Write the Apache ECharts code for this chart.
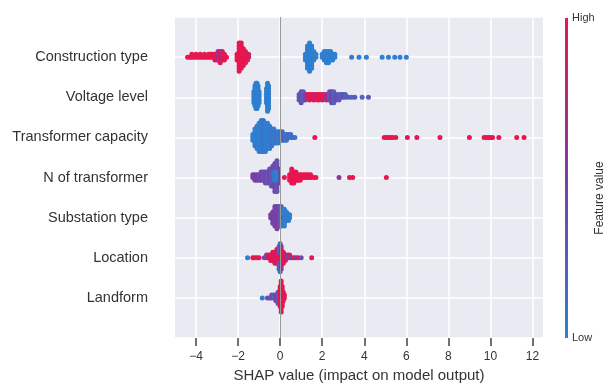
<!DOCTYPE html>
<html><head><meta charset="utf-8">
<script src="https://cdn.jsdelivr.net/npm/echarts@6/dist/echarts.min.js"></script>
<style>html,body{margin:0;padding:0;background:#fff}#c{width:606px;height:383px}</style>
</head><body><div id="c"></div>
<script>
// Feature names, top to bottom
const features = ['Construction type','Voltage level','Transformer capacity','N of transformer','Substation type','Location','Landform'];
const xTicks = [-4,-2,0,2,4,6,8,10,12];
// Each entry: [SHAP value, number of samples at that value, normalised feature value (0 low .. 1 high)]
const constructionType = [
  [-4.4,1,1],[-4.3,1,1],[-4.2,2,1],[-4.1,1,1],[-4.0,2,1],[-3.9,1,1],[-3.8,2,1],[-3.7,1,1],[-3.6,2,1],[-3.5,1,1],[-3.4,2,1],[-3.3,2,1],[-3.2,2,1],[-3.1,3,1],
  [-3.0,3,0.85],[-2.95,4,0.6],[-2.85,5,1],[-2.75,4,0.8],[-2.65,3,1],[-2.55,1,1],
  [-2.05,3,1],[-1.95,11,1],[-1.85,10,1],[-1.75,7,1],[-1.65,5,1],[-1.55,3,1],[-1.5,2,0.9],
  [1.2,3,0],[1.3,9,0],[1.4,11,0],[1.5,9,0],[1.6,4,0],[1.7,2,0],
  [2.0,2,0],[2.1,4,0.05],[2.2,5,0],[2.3,5,0],[2.4,4,0],[2.5,3,0],[2.6,2,0],
  [3.4,1,0],[3.75,1,0],[4.1,1,0],[4.85,1,0],[5.15,1,0],[5.45,1,0],[5.7,1,0],[6.0,1,0]
];
const voltageLevel = [
  [-1.25,5,0],[-1.2,8,0],[-1.15,10,0],[-1.1,10,0],[-1.05,8,0],[-1.0,5,0],
  [-0.65,6,0],[-0.6,11,0],[-0.55,9,0],
  [0.9,3,0.3],[1.0,5,0.4],[1.1,4,0.2],[1.2,3,0.5],
  [1.3,2,1],[1.4,3,0.9],[1.5,2,1],[1.6,3,1],[1.7,2,0.8],[1.8,3,1],[1.9,2,1],[2.0,3,0.9],[2.1,2,1],[2.2,3,0.7],
  [2.35,4,0.3],[2.45,5,0.5],[2.55,5,0.2],[2.65,3,0.4],
  [2.8,3,0.3],[2.9,2,0.2],[3.0,2,0.4],[3.1,2,0.2],[3.25,1,0.3],[3.4,1,0.2],[3.55,1,0.3],[3.9,1,0.2],[4.2,1,0.3]
];
const transformerCapacity = [
  [-1.3,3,0],[-1.2,7,0],[-1.1,9,0.05],[-1.0,11,0],[-0.9,12,0],[-0.8,12,0.1],[-0.7,11,0],[-0.6,10,0],[-0.5,9,0],[-0.4,7,0.1],[-0.3,6,0],[-0.2,5,0.15],[-0.1,5,0],[0.0,4,0.1],
  [0.1,4,0.1],[0.2,3,0.2],[0.3,3,0.1],[0.4,2,0.2],[0.5,2,0.1],[0.6,1,0.2],[0.7,1,0.1],
  [1.65,1,1],[4.95,1,1],[5.05,1,1],[5.15,1,1],[5.25,1,1],[5.35,1,1],[5.5,1,1],[6.05,1,1],[6.5,1,1],[7.6,1,1],[9.0,1,1],
  [9.7,1,1],[9.8,1,1],[9.9,1,1],[10.0,1,1],[10.1,1,1],[10.4,1,1],[11.25,1,1],[11.6,1,1]
];
const nTransformer = [
  [-1.3,2,0.5],[-1.2,3,0.45],[-1.1,3,0.5],[-1.0,3,0.4],[-0.9,4,0.5],[-0.8,4,0.35],[-0.7,5,0.45],[-0.6,5,0.3],[-0.5,6,0.5],[-0.42,7,0.25],
  [-0.35,8,0.4],[-0.25,11,0.45],[-0.15,12,0.35],[-0.08,6,0.5],[-0.3,4,0.1],[-0.2,4,0.0],
  [0.2,1,1],[0.45,3,1],[0.55,6,1],[0.65,5,1],[0.75,4,1],[0.85,3,1],[0.95,3,1],[1.05,2,1],[1.15,2,1],[1.25,2,1],[1.35,2,1],[1.45,2,1],[1.6,1,1],[1.7,1,1],
  [2.8,1,0.6],[3.3,1,1],[3.45,1,1],[5.05,1,1]
];
const substationType = [
  [-0.45,2,0.5],[-0.35,5,0.5],[-0.25,8,0.45],[-0.15,9,0.5],[-0.05,8,0.4],[0.05,8,0.15],[0.1,3,0.05],[0.15,1,1],[0.2,7,0],[0.3,4,0.05],[0.4,3,0],[0.45,2,0]
];
const locationData = [
  [-1.55,1,0],[-1.3,1,1],[-1.2,1,1],[-1.1,1,0.9],[-1.0,1,1],[-0.75,1,0.5],[-0.65,2,0.4],[-0.55,2,0.9],[-0.45,3,1],[-0.35,4,1],[-0.25,5,0.9],[-0.15,6,1],
  [-0.05,3,1],[0.0,3,1],[-0.05,6,0.3],[0.0,8,0.15],[0.05,9,0.6],[0.15,5,1],[0.25,3,0.9],[0.35,2,0.5],[0.45,2,0.9],[0.55,1,0.4],[0.65,1,1],[0.75,1,0.5],[0.85,1,0.9],[1.0,1,0.4],[1.5,1,1]
];
const landform = [
  [-0.85,1,0],[-0.6,1,0.5],[-0.5,1,0.3],[-0.4,2,0.4],[-0.3,2,0.2],[-0.2,3,0.5],[-0.1,5,0.3],
  [0.0,8,1],[0.05,12,1],[0.1,8,1],[0.15,4,1],[0.2,2,1]
];
const rows = [constructionType, voltageLevel, transformerCapacity, nTransformer, substationType, locationData, landform];

// beeswarm layout: stack samples that share an x bin, alternating above / below the row
const STEP = 0.07;
const points = [];
rows.forEach((clusters, i) => {
  const base = features.length - 1 - i;
  const bins = {};
  clusters.forEach(([x, n, fv]) => {
    const key = Math.round(x * 20);
    for (let k = 0; k < n; k++) {
      const idx = bins[key] || 0; bins[key] = idx + 1;
      const off = idx === 0 ? 0 : (idx % 2 ? 1 : -1) * Math.ceil(idx / 2);
      points.push([x, base + off * STEP, fv]);
    }
  });
});

const FONT = 'Liberation Sans, Arial, sans-serif';
const chart = echarts.init(document.getElementById('c'));
chart.setOption({
  animation: false,
  backgroundColor: '#ffffff',
  grid: { left: 175, right: 63, top: 17, bottom: 45, outerBoundsMode: 'none', containLabel: false,
    show: true, backgroundColor: '#eaeaf2', borderWidth: 0 },
  xAxis: {
    type: 'value', min: -5, max: 12.5,
    name: 'SHAP value (impact on model output)', nameLocation: 'middle', nameGap: 25,
    nameTextStyle: { fontFamily: FONT, fontSize: 15, color: '#333' },
    axisLine: { show: false, onZero: false },
    axisTick: { show: true, customValues: xTicks, length: 8, lineStyle: { color: '#444', width: 1.5 } },
    axisLabel: { customValues: xTicks, margin: 13, fontFamily: FONT, fontSize: 12, color: '#333',
      formatter: v => String(v).replace('-', '\u2212') },
    splitLine: { show: true, lineStyle: { color: '#ffffff', width: 1.5 } }
  },
  yAxis: {
    type: 'value', min: -1, max: 7, interval: 1,
    axisLine: { show: false, onZero: false }, axisTick: { show: false },
    axisLabel: { margin: 27, fontFamily: FONT, fontSize: 14.5, color: '#333',
      formatter: v => (v >= 0 && v <= 6) ? features[6 - v] : '' },
    splitLine: { show: true, lineStyle: { color: '#ffffff', width: 1.5 } }
  },
  visualMap: {
    show: false, type: 'continuous', min: 0, max: 1, dimension: 2, seriesIndex: 1,
    inRange: { color: ['#2f7fd0', '#7b3fa6', '#e8164f'] }
  },
  series: [
    { type: 'scatter', data: [], z: 1, silent: true,
      markLine: { silent: true, symbol: ['none','none'], label: { show: false },
        lineStyle: { color: '#999', width: 1, type: 'solid' }, data: [{ xAxis: 0 }] } },
    { type: 'scatter', data: points, symbolSize: 5, z: 2, itemStyle: { opacity: 1 } }
  ],
  graphic: [
    { type: 'rect', shape: { x: 565, y: 18, width: 3, height: 320 },
      style: { fill: new echarts.graphic.LinearGradient(0, 0, 0, 1, [
        { offset: 0, color: '#e8164f' }, { offset: 0.5, color: '#7b3fa6' }, { offset: 1, color: '#2f7fd0' }]) } },
    { type: 'text', x: 572, y: 18, style: { text: 'High', fontFamily: FONT, fontSize: 11, fill: '#333', verticalAlign: 'middle' } },
    { type: 'text', x: 572, y: 338, style: { text: 'Low', fontFamily: FONT, fontSize: 11, fill: '#333', verticalAlign: 'middle' } },
    { type: 'text', x: 600, y: 198, rotation: Math.PI / 2, style: { text: 'Feature value', fontFamily: FONT, fontSize: 12, fill: '#333', align: 'center', verticalAlign: 'middle' } }
  ]
});
</script></body></html>
